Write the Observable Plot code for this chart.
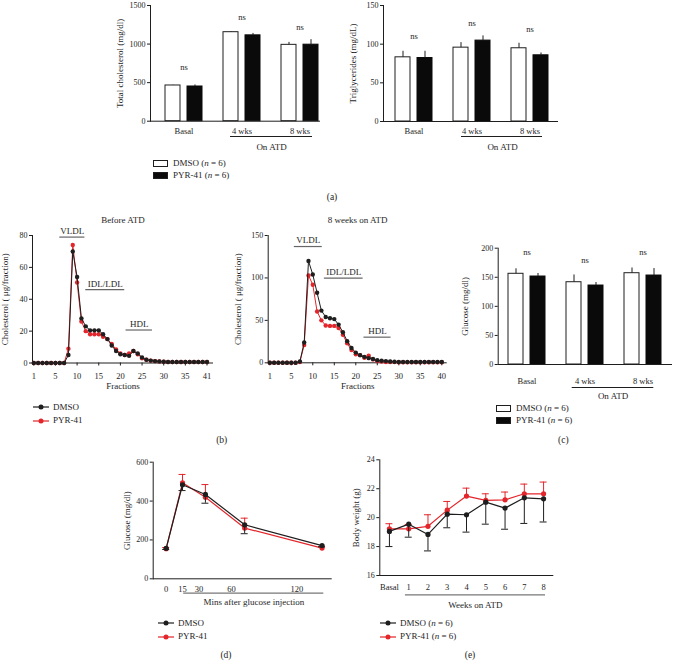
<!DOCTYPE html>
<html><head><meta charset="utf-8">
<script src="https://cdn.jsdelivr.net/npm/d3@7"></script>
<script src="https://cdn.jsdelivr.net/npm/@observablehq/plot@0.6"></script>
<style>
body{margin:0;background:#fff;}
#fig{position:relative;width:673px;height:662px;overflow:hidden;font-family:"Liberation Serif","DejaVu Serif",serif;color:#1e1e1e;background:#fff;}
.lbl{position:absolute;white-space:nowrap;line-height:1;transform:translate(-50%,-50%);}
.leg{position:absolute;display:flex;align-items:center;height:12px;font-size:9px;white-space:nowrap;line-height:1;}
.leg svg{display:block;}
</style></head><body><div id="fig"></div>
<script>
const RED = "#e3262b";
const INK = "#1e1e1e";
const FONT = '"Liberation Serif", "DejaVu Serif", serif';

// ---------- (a) and (c): bar charts ----------
const barGroups = ["Basal", "4 wks", "8 wks"];
const onATD = ["4 wks", "8 wks"];

const cholDMSO = [463, 1154, 990];
const cholDMSOErr = [3, 6, 32];
const cholPYR = [450, 1113, 992];
const cholPYRErr = [20, 25, 65];
const cholNs = [618, 1267, 1141];
const cholTicks = [0, 500, 1000, 1500];

const tgDMSO = [83, 95.5, 94.7];
const tgDMSOErr = [7.8, 6.5, 6.5];
const tgPYR = [82.1, 104.6, 85.6];
const tgPYRErr = [8.7, 6.1, 3];
const tgNs = [102.5, 118.9, 111.1];
const tgTicks = [0, 50, 100, 150];

const gluDMSO = [156, 141.5, 157];
const gluDMSOErr = [8.6, 12.5, 9];
const gluPYR = [151.3, 135.8, 153];
const gluPYRErr = [5.2, 5.2, 12];
const gluNs = [182.8, 168.5, 182.8];
const gluTicks = [0, 50, 100, 150, 200];

// ---------- (b): FPLC cholesterol profiles ----------
const fractions = d3.range(1, 42);
const fracTickAt = [1, 6, 11, 16, 21, 26, 31, 36, 41];
const fracLabelsBefore = ["1", "5", "10", "15", "20", "25", "30", "35", "41"];
const fracLabels8wk = ["1", "5", "10", "15", "20", "25", "30", "35", "40"];
const beforeDMSO = [0,0,0,0,0,0,0,0,5,70,54,28,23,20.5,20.5,20.5,18,15,11,7.5,5.5,5,4.5,7.5,6,3.5,2,1.5,1.2,1,0.8,0.6,0.6,0.6,0.6,0.6,0.6,0.6,0.6,0.6,0.6];
const beforePYR  = [0,0,0,0,0,0,0,0,9,74,50.5,26,20,18,18,18,16.5,15,12,8.5,6,5,6,7.5,5.5,3,2,1.5,1.2,1,0.8,0.6,0.6,0.6,0.6,0.6,0.6,0.6,0.6,0.6,0.6];
const wk8DMSO = [0,0,0,0,0,0,0,1.5,24,120,104,82.5,61.5,54,52.5,51.5,45,36,25.5,17.5,12,9,7,5.5,4.5,3,2.5,2,1.5,1.2,1,1,1,1,1,1,1,1,1,1,1];
const wk8PYR  = [0,0,0,0,0,0,0,1,21,103,92,60.5,50,44,43.5,43.5,41,33,23,15,10,9,6,8.5,4,2,1.5,1,1,0.8,0.7,0.7,0.7,0.7,0.7,0.7,0.7,0.7,0.7,0.7,0.7];
const lipoLabels = ["VLDL", "IDL/LDL", "HDL"];

// ---------- (d): glucose tolerance ----------
const gttMinutes = [0, 15, 36, 72, 143];
const gttTicks = [0, 15, 30, 60, 120];
const gttDMSO = [157, 484, 434, 278, 171];
const gttDMSOErr = [6, 30, 45, 46, 6];
const gttPYR = [155, 494, 420, 261, 158];
const gttPYRErr = [6, 43, 65, 51, 6];

// ---------- (e): body weight ----------
const bwWeek = [0, 1, 2, 3, 4, 5, 6, 7, 8];
const bwLabels = ["Basal", "1", "2", "3", "4", "5", "6", "7", "8"];
const bwDMSO = [19.05, 19.55, 18.84, 20.24, 20.2, 21.07, 20.66, 21.37, 21.3];
const bwDMSOErr = [1.05, 0.9, 1.14, 0.94, 1.2, 1.52, 1.46, 1.77, 1.6];
const bwPYR = [19.23, 19.23, 19.4, 20.52, 21.49, 21.19, 21.23, 21.65, 21.65];
const bwPYRErr = [0.35, 0.3, 0.8, 0.6, 0.55, 0.46, 0.54, 0.67, 0.81];

const fig = document.getElementById("fig");
const baseStyle = {fontFamily: FONT, fontSize: "8.5px", color: INK, background: "transparent", overflow: "visible"};
const plain = d => String(d);

function place(svg, left, top) {
  svg.style.position = "absolute";
  svg.style.left = left + "px";
  svg.style.top = top + "px";
  svg.style.maxWidth = "none";
  fig.appendChild(svg);
}

function yTitle(text, dx) {
  return Plot.text([text], {frameAnchor: "left", textAnchor: "middle", rotate: -90, dx, fontSize: 9, text: d => d});
}

function barChart(c) {
  const rows = (m, e) => barGroups.map((g, i) => ({group: g, mean: m[i], err: e[i]}));
  const dm = rows(c.dmso, c.dmsoErr);
  const py = rows(c.pyr, c.pyrErr);
  const ns = barGroups.map((g, i) => ({group: g, y: c.ns[i]}));
  const svg = Plot.plot({
    width: c.w, height: c.h,
    marginLeft: c.ml, marginRight: c.mr, marginTop: c.mt, marginBottom: c.mb,
    style: baseStyle,
    x: {domain: barGroups, paddingInner: c.pi, paddingOuter: c.po, align: c.align},
    y: {domain: [0, c.yMax]},
    marks: [
      Plot.barY(dm, {x: "group", y: "mean", fill: "white", stroke: INK, strokeWidth: 1, insetRight: 22}),
      Plot.barY(py, {x: "group", y: "mean", fill: "#0a0a0a", stroke: "#0a0a0a", strokeWidth: 1, insetLeft: 22}),
      Plot.ruleX(dm, {x: "group", y1: "mean", y2: d => d.mean + d.err, dx: -11, stroke: INK}),
      Plot.ruleY(dm, {x: "group", y: d => d.mean + d.err, insetLeft: 4, insetRight: 26, stroke: INK}),
      Plot.ruleX(py, {x: "group", y1: "mean", y2: d => d.mean + d.err, dx: 11, stroke: INK}),
      Plot.ruleY(py, {x: "group", y: d => d.mean + d.err, insetLeft: 26, insetRight: 4, stroke: INK}),
      Plot.ruleY(ns, {x: "group", y: "y", insetLeft: 7.5, insetRight: 7.5, stroke: INK}),
      Plot.text(ns, {x: "group", y: "y", text: () => "ns", dy: -6, fontSize: 8.5}),
      Plot.frame({anchor: "left", stroke: INK}),
      Plot.ruleY([0], {stroke: INK}),
      Plot.axisY({ticks: c.ticks, tickFormat: plain, tickSize: 3, tickPadding: 2, fontSize: 8, label: null}),
      Plot.axisX({tickSize: 0, tickPadding: c.xPad, fontSize: 8.5, label: null}),
      Plot.ruleY([onATD], {x1: d => d[0], x2: d => d[1], y: () => 0, dy: c.ulDy, insetLeft: c.ulL, insetRight: c.ulR, stroke: INK}),
      Plot.text([onATD], {x: d => d[0], y: () => 0, text: () => "On ATD", dx: c.atdDx, dy: c.atdDy, fontSize: 9}),
      yTitle(c.yLabel, c.yLabelDx)
    ]
  });
  place(svg, c.left, c.top);
}

barChart({left: 100, top: 0, w: 230, h: 160, ml: 50, mr: 10, mt: 5, mb: 39.3,
  pi: 0.3675, po: 0.1368, align: 0.875, yMax: 1500, ticks: cholTicks,
  dmso: cholDMSO, dmsoErr: cholDMSOErr, pyr: cholPYR, pyrErr: cholPYRErr, ns: cholNs,
  xPad: 6.3, ulDy: 15.3, ulL: 7, ulR: 6, atdDx: 29.5, atdDy: 26.3,
  yLabel: "Total cholesterol (mg/dl)", yLabelDx: -30});

barChart({left: 335, top: 0, w: 235, h: 160, ml: 48, mr: 12, mt: 5, mb: 39,
  pi: 0.3675, po: 0.1795, align: 0.524, yMax: 150, ticks: tgTicks,
  dmso: tgDMSO, dmsoErr: tgDMSOErr, pyr: tgPYR, pyrErr: tgPYRErr, ns: tgNs,
  xPad: 6, ulDy: 15, ulL: 8, ulR: 6, atdDx: 30.5, atdDy: 26,
  yLabel: "Triglycerides (mg/dL)", yLabelDx: -30.7});

barChart({left: 445, top: 240, w: 228, h: 165, ml: 52.7, mr: 1, mt: 7.7, mb: 41,
  pi: 0.3621, po: 0.1836, align: 0.484, yMax: 200, ticks: gluTicks,
  dmso: gluDMSO, dmsoErr: gluDMSOErr, pyr: gluPYR, pyrErr: gluPYRErr, ns: gluNs,
  xPad: 13, ulDy: 23, ulL: 5.7, ulR: 7.7, atdDx: 28, atdDy: 32,
  yLabel: "Glucose (mg/dl)", yLabelDx: -32.7});

function fplcChart(c) {
  const dm = fractions.map((f, i) => ({f, v: c.dmso[i]}));
  const py = fractions.map((f, i) => ({f, v: c.pyr[i]}));
  const labelOf = new Map(fracTickAt.map((t, i) => [t, c.tickLabels[i]]));
  const ann = lipoLabels.map((l, i) => ({label: l, ...c.spans[i]}));
  const svg = Plot.plot({
    width: c.w, height: c.h,
    marginLeft: c.ml, marginRight: c.mr, marginTop: c.mt, marginBottom: c.mb,
    style: baseStyle,
    x: {domain: c.xDomain},
    y: {domain: [0, c.yMax]},
    marks: [
      Plot.frame({anchor: "left", stroke: INK}),
      Plot.ruleY([0], {stroke: INK}),
      Plot.axisY({ticks: c.yTicks, tickFormat: plain, tickSize: 3, tickPadding: 2, fontSize: 8, label: null}),
      Plot.axisX({ticks: fracTickAt, tickFormat: d => labelOf.get(d), tickSize: 3, tickPadding: 7, fontSize: 8.5, label: null}),
      Plot.lineY(py, {x: "f", y: "v", stroke: RED, strokeWidth: 1}),
      Plot.dot(py, {x: "f", y: "v", r: 2.2, fill: RED}),
      Plot.lineY(dm, {x: "f", y: "v", stroke: INK, strokeWidth: 1}),
      Plot.dot(dm, {x: "f", y: "v", r: 2.2, fill: INK}),
      Plot.ruleY(ann, {x1: "x1", x2: "x2", y: "y", stroke: "#666", strokeWidth: 1.2}),
      Plot.text(ann, {x: d => (d.x1 + d.x2) / 2, y: "y", text: "label", dy: -6, fontSize: 9}),
      Plot.text([c.title], {frameAnchor: "top", dy: -19.3, fontSize: 9, text: d => d}),
      Plot.text(["Fractions"], {frameAnchor: "bottom", dy: 25.7, fontSize: 9, text: d => d}),
      yTitle("Cholesterol ( μg/fraction)", c.yLabelDx)
    ]
  });
  place(svg, c.left, c.top);
}

fplcChart({left: 0, top: 200, w: 225, h: 200, ml: 32, mr: 12, mt: 35, mb: 37.5,
  xDomain: [0.70, 42.5], yMax: 80, yTicks: [0, 20, 40, 60, 80], tickLabels: fracLabelsBefore,
  dmso: beforeDMSO, pyr: beforePYR, title: "Before ATD", yLabelDx: -27,
  spans: [{x1: 7, x2: 12.8, y: 79}, {x1: 13, x2: 22, y: 46}, {x1: 22.3, x2: 28.4, y: 20.7}]});

fplcChart({left: 225, top: 200, w: 225, h: 200, ml: 42.7, mr: 3.3, mt: 35, mb: 37.7,
  xDomain: [0.63, 42.26], yMax: 150, yTicks: [0, 50, 100, 150], tickLabels: fracLabels8wk,
  dmso: wk8DMSO, pyr: wk8PYR, title: "8 weeks on ATD", yLabelDx: -30.4,
  spans: [{x1: 6.7, x2: 13.2, y: 137}, {x1: 13.7, x2: 22.7, y: 99.7}, {x1: 22.9, x2: 29.2, y: 30.2}]});

function timeChart(c) {
  const dm = c.x.map((x, i) => ({x, v: c.dmso[i], e: c.dmsoErr[i]}));
  const py = c.x.map((x, i) => ({x, v: c.pyr[i], e: c.pyrErr[i]}));
  const svg = Plot.plot({
    width: c.w, height: c.h,
    marginLeft: c.ml, marginRight: c.mr, marginTop: c.mt, marginBottom: c.mb,
    style: baseStyle,
    x: {domain: c.xDomain},
    y: {domain: c.yDomain},
    marks: [
      Plot.frame({anchor: "left", stroke: INK}),
      Plot.ruleY([c.yDomain[0]], {stroke: INK}),
      Plot.axisY({ticks: c.yTicks, tickFormat: plain, tickSize: 3, tickPadding: 2, fontSize: 8, label: null}),
      Plot.axisX({ticks: c.xTicks, tickFormat: c.xFormat, tickSize: 0, tickPadding: c.xPad, fontSize: 8.5, label: null}),
      Plot.ruleX(py, {x: "x", y1: "v", y2: d => d.v + d.e, stroke: RED}),
      Plot.ruleY(py, {x1: "x", x2: "x", y: d => d.v + d.e, insetLeft: -3.5, insetRight: -3.5, stroke: RED}),
      Plot.lineY(py, {x: "x", y: "v", stroke: RED, strokeWidth: 1.2}),
      Plot.dot(py, {x: "x", y: "v", r: 2.6, fill: RED}),
      Plot.ruleX(dm, {x: "x", y1: "v", y2: d => d.v - d.e, stroke: INK}),
      Plot.ruleY(dm, {x1: "x", x2: "x", y: d => d.v - d.e, insetLeft: -3.5, insetRight: -3.5, stroke: INK}),
      Plot.lineY(dm, {x: "x", y: "v", stroke: INK, strokeWidth: 1.2}),
      Plot.dot(dm, {x: "x", y: "v", r: 2.6, fill: INK}),
      Plot.ruleY([c.span], {x1: d => d[0], x2: d => d[1], y: () => c.yDomain[0], dy: c.ulDy, stroke: "#777", strokeWidth: 1.2}),
      Plot.text([c.span], {x: d => (d[0] + d[1]) / 2, y: () => c.yDomain[0], text: () => c.xTitle, dy: c.titleDy, fontSize: 9}),
      yTitle(c.yLabel, c.yLabelDx)
    ]
  });
  place(svg, c.left, c.top);
}

timeChart({left: 95, top: 440, w: 250, h: 175, ml: 57.7, mr: 13.3, mt: 21.7, mb: 36.7,
  x: gttMinutes, xDomain: [-11.9, 152.3], xTicks: gttTicks, xFormat: plain, xPad: 7,
  yDomain: [0, 600], yTicks: [0, 200, 400, 600],
  dmso: gttDMSO, dmsoErr: gttDMSOErr, pyr: gttPYR, pyrErr: gttPYRErr,
  span: [16.1, 144.6], ulDy: 14.4, titleDy: 23.4, xTitle: "Mins after glucose injection",
  yLabel: "Glucose (mg/dl)", yLabelDx: -26});

const bwLabelOf = new Map(bwWeek.map((w, i) => [w, bwLabels[i]]));
timeChart({left: 330, top: 440, w: 235, h: 175, ml: 49.3, mr: 11.7, mt: 19.3, mb: 40,
  x: bwWeek, xDomain: [-0.5, 8.53], xTicks: bwWeek, xFormat: d => bwLabelOf.get(d), xPad: 8.7,
  yDomain: [16, 24], yTicks: [16, 18, 20, 22, 24],
  dmso: bwDMSO, dmsoErr: bwDMSOErr, pyr: bwPYR, pyrErr: bwPYRErr,
  span: [0.83, 8.1], ulDy: 19.3, titleDy: 30, xTitle: "Weeks on ATD",
  yLabel: "Body weight (g)", yLabelDx: -24});

// ---------- legends & panel labels ----------
const boxSw = f => `<svg width="15" height="7"><rect x="0.5" y="0.5" width="14" height="6" fill="${f}" stroke="${INK}"/></svg>`;
const lineSw = col => `<svg width="16" height="6"><line x1="0" x2="16" y1="3" y2="3" stroke="${col}" stroke-width="1.2"/><circle cx="8" cy="3" r="2.5" fill="${col}"/></svg>`;
function legend(x, y, sw, html, gap) {
  const d = document.createElement("div");
  d.className = "leg";
  d.style.left = x + "px";
  d.style.top = (y - 6) + "px";
  d.innerHTML = sw + `<span style="margin-left:${gap}px">${html}</span>`;
  fig.appendChild(d);
}
const dmsoN = "DMSO (<i>n</i> = 6)", pyrN = "PYR-41 (<i>n</i> = 6)";
legend(153, 163.5, boxSw("white"), dmsoN, 5);
legend(153, 175.5, boxSw("#0a0a0a"), pyrN, 5);
legend(33, 407.3, lineSw(INK), "DMSO", 4);
legend(33, 420.7, lineSw(RED), "PYR-41", 4);
legend(496, 408.3, boxSw("white"), dmsoN, 5);
legend(496, 420, boxSw("#0a0a0a"), pyrN, 5);
legend(158, 623, lineSw(INK), "DMSO", 4);
legend(158, 636.5, lineSw(RED), "PYR-41", 4);
legend(380, 623.3, lineSw(INK), dmsoN, 4);
legend(380, 636.5, lineSw(RED), pyrN, 4);

function panelLabel(t, x, y) {
  const d = document.createElement("div");
  d.className = "lbl";
  d.style.left = x + "px"; d.style.top = y + "px"; d.style.fontSize = "9.5px";
  d.textContent = t;
  fig.appendChild(d);
}
panelLabel("(a)", 332, 198);
panelLabel("(b)", 221.7, 441);
panelLabel("(c)", 563.3, 441);
panelLabel("(d)", 226, 656);
panelLabel("(e)", 470, 656);
</script></body></html>
